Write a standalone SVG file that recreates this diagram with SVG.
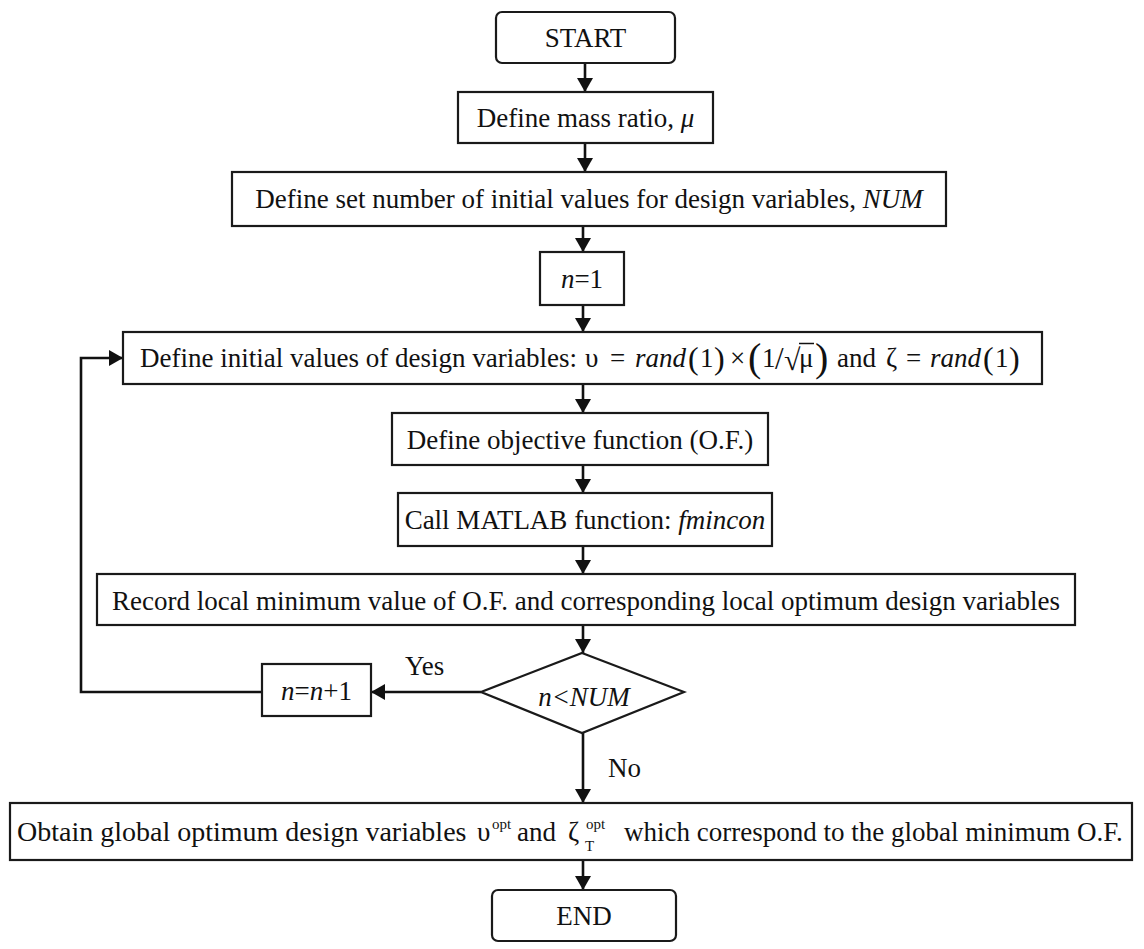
<svg xmlns="http://www.w3.org/2000/svg" width="1144" height="949" viewBox="0 0 1144 949">
<defs>
<marker id="ah" viewBox="0 0 14 16" refX="14" refY="8" markerWidth="14" markerHeight="16" markerUnits="userSpaceOnUse" orient="auto">
<path d="M0,0 L14,8 L0,16 Z" fill="#111"/>
</marker>
<style>
.box{fill:#fff;stroke:#1a1a1a;stroke-width:2.2}
.t{font-family:'Liberation Serif','DejaVu Serif',serif;font-size:27px;fill:#111}
.m{text-anchor:middle}
.it{font-style:italic}
.sm{font-size:15px}
.p32{font-size:32px}
.p40{font-size:40px}
.conn{stroke:#111;stroke-width:2.6;fill:none}
</style>
</defs>
<rect width="1144" height="949" fill="#fff"/>
<g id="connectors">
<path class="conn" d="M585,63 V92" marker-end="url(#ah)"/>
<path class="conn" d="M585,143 V172" marker-end="url(#ah)"/>
<path class="conn" d="M583,226 V252" marker-end="url(#ah)"/>
<path class="conn" d="M583,305 V332" marker-end="url(#ah)"/>
<path class="conn" d="M583,384 V413" marker-end="url(#ah)"/>
<path class="conn" d="M583,465 V493" marker-end="url(#ah)"/>
<path class="conn" d="M583,546 V574" marker-end="url(#ah)"/>
<path class="conn" d="M583,625 V653" marker-end="url(#ah)"/>
<path class="conn" d="M481,692 H371" marker-end="url(#ah)"/>
<path class="conn" d="M262,692 H81 V358 H123" marker-end="url(#ah)"/>
<path class="conn" d="M583,733 V803" marker-end="url(#ah)"/>
<path class="conn" d="M583,860 V890" marker-end="url(#ah)"/>
<text class="t" x="405" y="675">Yes</text>
<text class="t" x="608" y="777">No</text>
</g>
<g id="start">
<rect class="box" x="496" y="12" width="179" height="51" rx="6"/>
<text class="t m" x="585.5" y="47">START</text>
</g>
<g id="mass">
<rect class="box" x="458" y="92" width="255" height="51"/>
<text class="t m" x="585.5" y="127">Define mass ratio, <tspan class="it">μ</tspan></text>
</g>
<g id="setnum">
<rect class="box" x="232" y="172" width="714" height="54"/>
<text class="t m" x="589" y="208">Define set number of initial values for design variables, <tspan class="it">NUM</tspan></text>
</g>
<g id="n1">
<rect class="box" x="540" y="252" width="84" height="53"/>
<text class="t m" x="582" y="288"><tspan class="it">n</tspan>=1</text>
</g>
<g id="init">
<rect class="box" x="123" y="332" width="919" height="52"/>
<text class="t" x="140" y="367">Define initial values of design variables:</text>
<text class="t" x="585" y="367">υ</text>
<text class="t" x="610" y="367">=</text>
<text class="t it" x="635" y="367">rand</text>
<text class="t p32" x="688" y="369">(</text>
<text class="t" x="700" y="367">1</text>
<text class="t p32" x="714" y="369">)</text>
<text class="t" x="730" y="367">×</text>
<text class="t p40" x="748" y="371">(</text>
<text class="t" x="762" y="367">1</text>
<text class="t" x="775" y="369" style="font-size:31px">/</text>
<text class="t" x="784" y="370" style="font-size:30px">√</text>
<line x1="799" y1="343.5" x2="814" y2="343.5" stroke="#111" stroke-width="1.5"/>
<text class="t" x="799" y="367">μ</text>
<text class="t p40" x="815" y="371">)</text>
<text class="t" x="837" y="367">and</text>
<text class="t" x="886" y="367">ζ</text>
<text class="t" x="906" y="367">=</text>
<text class="t it" x="930" y="367">rand</text>
<text class="t p32" x="983" y="369">(</text>
<text class="t" x="995" y="367">1</text>
<text class="t p32" x="1009" y="369">)</text>
</g>
<g id="objective">
<rect class="box" x="392" y="413" width="376" height="52"/>
<text class="t m" x="580" y="449">Define objective function (O.F.)</text>
</g>
<g id="call">
<rect class="box" x="398" y="493" width="374" height="53"/>
<text class="t m" x="585" y="529">Call MATLAB function: <tspan class="it">fmincon</tspan></text>
</g>
<g id="record">
<rect class="box" x="97" y="574" width="978" height="51"/>
<text class="t m" x="586" y="610">Record local minimum value of O.F. and corresponding local optimum design variables</text>
</g>
<g id="decision">
<polygon class="box" points="582,653 684,692 582,733 481,692"/>
<text class="t m it" x="584" y="706">n&lt;NUM</text>
</g>
<g id="inc">
<rect class="box" x="262" y="664" width="109" height="52"/>
<text class="t m" x="316.5" y="700"><tspan class="it">n</tspan>=<tspan class="it">n</tspan>+1</text>
</g>
<g id="obtain">
<rect class="box" x="10" y="803" width="1122" height="57"/>
<text class="t" x="17" y="841" style="font-size:28px">Obtain global optimum design variables</text>
<text class="t" x="477" y="841">υ</text>
<text class="t sm" x="492" y="829">opt</text>
<text class="t" x="517" y="841">and</text>
<text class="t" x="568" y="841">ζ</text>
<text class="t sm" x="586" y="829">opt</text>
<text class="t sm" x="585" y="851">T</text>
<text class="t" x="624" y="841">which correspond to the global minimum O.F.</text>
</g>
<g id="end">
<rect class="box" x="492" y="890" width="184" height="51" rx="6"/>
<text class="t m" x="584" y="925">END</text>
</g>
</svg>
